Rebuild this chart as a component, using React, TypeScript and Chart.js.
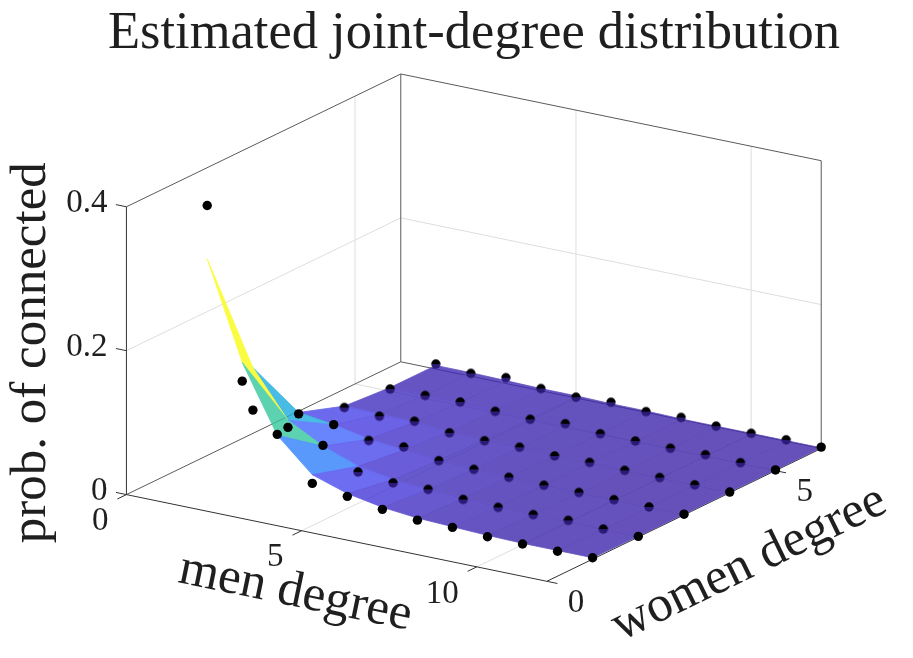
import React, { useEffect, useRef } from "react";
import { Chart, registerables } from "chart.js";

Chart.register(...registerables);

// ---------------- data ----------------
const TITLE = "Estimated joint-degree distribution";
const X_LABEL = "men degree";
const Y_LABEL = "women degree";
const Z_LABEL = "prob. of connected";

const menDegree = [1, 2, 3, 4, 5, 6, 7, 8, 9, 10, 11, 12];
const womenDegree = [1, 2, 3, 4, 5, 6];

// observed frequencies (black dots), one array per women degree, indexed by men degree
const observedW1 = [0.381, 0.147, 0.083, 0.025, 0.017, 0.009, 0.004, 0.004, 0.001, 0.001, 0.001, 0.002];
const observedW2 = [0.066, 0.052, 0.037, 0.010, 0.005, 0.006, 0.002, 0.001, 0.001, 0.003, 0.001, 0.001];
const observedW3 = [0.030, 0.025, 0.013, 0.014, 0.005, 0.003, 0.002, 0.001, 0.001, 0.001, 0.001, 0.001];
const observedW4 = [0.008, 0.006, 0.009, 0.003, 0.002, 0.003, 0.001, 0.002, 0.001, 0.001, 0.001, 0.001];
const observedW5 = [0.003, 0.004, 0.005, 0.002, 0.001, 0.005, 0.001, 0.001, 0.001, 0.002, 0.001, 0.001];
const observedW6 = [0.007, 0.004, 0.008, 0.003, 0.001, 0.004, 0.001, 0.003, 0.001, 0.001, 0.002, 0.002];

// estimated surface, one array per women degree, indexed by men degree
const estimatedW1 = [0.307, 0.173, 0.082, 0.037, 0.021, 0.012, 0.007, 0.005, 0.003, 0.002, 0.002, 0.002];
const estimatedW2 = [0.125, 0.062, 0.036, 0.018, 0.010, 0.006, 0.004, 0.003, 0.002, 0.002, 0.001, 0.001];
const estimatedW3 = [0.032, 0.025, 0.015, 0.010, 0.006, 0.004, 0.003, 0.002, 0.001, 0.001, 0.001, 0.001];
const estimatedW4 = [0.010, 0.009, 0.008, 0.005, 0.004, 0.003, 0.002, 0.002, 0.001, 0.001, 0.001, 0.001];
const estimatedW5 = [0.005, 0.005, 0.005, 0.004, 0.003, 0.003, 0.002, 0.001, 0.001, 0.001, 0.001, 0.001];
const estimatedW6 = [0.005, 0.005, 0.004, 0.003, 0.003, 0.002, 0.002, 0.001, 0.001, 0.001, 0.001, 0.001];

const menLimits = [0, 12];
const womenLimits = [0, 6];
const zLimits = [0, 0.4];

const menTicks = [0, 5, 10];
const menTickLabels = ["0", "5", "10"];
const womenTicks = [0, 5];
const womenTickLabels = ["0", "5"];
const zTicks = [0, 0.2, 0.4];
const zTickLabels = ["0", "0.2", "0.4"];

// ---------------- styling / projection ----------------
const SERIF = "'Liberation Serif', 'DejaVu Serif', serif";
const TEXT_COLOR = "#1f1f1f";
const AXIS_COLOR = "#333333";
const BOX_COLOR = "#5a5a5a";
const GRID_COLOR = "#dedede";
const FACE_ALPHA = 0.8;

// orthographic view: screen = origin + m*MV + w*WV - z*ZS
const ORIGIN = { x: 123, y: 497 };
const MV = { x: 35.4, y: 7.33 };
const WV = { x: 46.2, y: -22.45 };
const ZS = 730;

function proj(m: number, w: number, z: number) {
  return {
    x: ORIGIN.x + MV.x * m + WV.x * w,
    y: ORIGIN.y + MV.y * m + WV.y * w - ZS * z,
  };
}

// MATLAB parula colormap (64 entries)
const PARULA = [
  [0.2422, 0.1504, 0.6603], [0.2504, 0.165, 0.7076], [0.2578, 0.1818, 0.7511], [0.2647, 0.1978, 0.7952],
  [0.2706, 0.2147, 0.8364], [0.2751, 0.2342, 0.871], [0.2783, 0.2559, 0.8991], [0.2803, 0.2782, 0.9221],
  [0.2813, 0.3006, 0.9414], [0.281, 0.3228, 0.9579], [0.2795, 0.3447, 0.9717], [0.276, 0.3667, 0.9829],
  [0.2699, 0.3892, 0.9906], [0.2602, 0.4123, 0.9952], [0.244, 0.4358, 0.9988], [0.2206, 0.4603, 0.9973],
  [0.1963, 0.4847, 0.9892], [0.1834, 0.5074, 0.9798], [0.1786, 0.5289, 0.9682], [0.1764, 0.5499, 0.952],
  [0.1687, 0.5703, 0.9359], [0.154, 0.5902, 0.9218], [0.146, 0.6091, 0.9079], [0.138, 0.6276, 0.8973],
  [0.1248, 0.6459, 0.8883], [0.1113, 0.6635, 0.8763], [0.0952, 0.6798, 0.8598], [0.0689, 0.6948, 0.8394],
  [0.0297, 0.7082, 0.8163], [0.0036, 0.7203, 0.7917], [0.0067, 0.7312, 0.766], [0.0433, 0.7411, 0.7394],
  [0.0964, 0.75, 0.712], [0.1408, 0.7584, 0.6842], [0.1717, 0.767, 0.6554], [0.1938, 0.7758, 0.6251],
  [0.2161, 0.7843, 0.5923], [0.247, 0.7918, 0.5567], [0.2906, 0.7973, 0.5188], [0.3406, 0.8008, 0.4789],
  [0.3909, 0.8029, 0.4354], [0.4456, 0.8024, 0.3909], [0.5044, 0.7993, 0.348], [0.5616, 0.7942, 0.3045],
  [0.6174, 0.7876, 0.2612], [0.672, 0.7793, 0.2227], [0.7242, 0.7698, 0.191], [0.7738, 0.7598, 0.1646],
  [0.8203, 0.7498, 0.1535], [0.8634, 0.7406, 0.1596], [0.9035, 0.733, 0.1774], [0.9393, 0.7288, 0.21],
  [0.9728, 0.7298, 0.2394], [0.9956, 0.7434, 0.2371], [0.997, 0.7659, 0.2199], [0.9952, 0.7893, 0.2028],
  [0.9892, 0.8136, 0.1885], [0.9786, 0.8386, 0.1766], [0.9676, 0.8639, 0.1643], [0.961, 0.889, 0.1537],
  [0.9597, 0.9135, 0.1423], [0.9628, 0.9373, 0.1265], [0.9691, 0.9606, 0.1064], [0.9769, 0.9839, 0.0805],
];

function parulaRGB(t: number) {
  const tt = Math.max(0, Math.min(1, t)) * (PARULA.length - 1);
  const i = Math.min(PARULA.length - 2, Math.floor(tt));
  const f = tt - i;
  return PARULA[i].map((v, k) => 255 * (v + (PARULA[i + 1][k] - v) * f));
}

function makeHalfDot(r: number) {
  const c = document.createElement("canvas");
  const s = Math.ceil(r * 2) + 2;
  c.width = s;
  c.height = s;
  const g = c.getContext("2d")!;
  const cx = s / 2;
  g.beginPath();
  g.arc(cx, cx, r, Math.PI, 2 * Math.PI);
  g.closePath();
  g.fillStyle = "#000000";
  g.fill();
  g.beginPath();
  g.arc(cx, cx, r, 0, Math.PI);
  g.closePath();
  g.fillStyle = "rgb(44,27,118)";
  g.fill();
  return c;
}

function buildDatasets(halfDot: HTMLCanvasElement) {
  const observed = [observedW1, observedW2, observedW3, observedW4, observedW5, observedW6];
  const estimated = [estimatedW1, estimatedW2, estimatedW3, estimatedW4, estimatedW5, estimatedW6];
  const [m0, m1] = menLimits;
  const [w0, w1] = womenLimits;
  const [z0, z1] = zLimits;
  const seq: any[] = [];

  const seg = (a: number[], b: number[], color: string, width: number) => ({
    type: "line",
    data: [proj(a[0], a[1], a[2]), proj(b[0], b[1], b[2])],
    borderColor: color,
    borderWidth: width,
    pointRadius: 0,
    fill: false,
    tension: 0,
  });

  // grid lines on back walls and floor
  zTicks.filter((t) => t > z0 && t < z1).forEach((t) => {
    seq.push(seg([m0, w0, t], [m0, w1, t], GRID_COLOR, 1));
    seq.push(seg([m0, w1, t], [m1, w1, t], GRID_COLOR, 1));
  });
  menTicks.filter((t) => t > m0 && t < m1).forEach((t) => {
    seq.push(seg([t, w1, z0], [t, w1, z1], GRID_COLOR, 1));
    seq.push(seg([t, w0, z0], [t, w1, z0], GRID_COLOR, 1));
  });
  womenTicks.filter((t) => t > w0 && t < w1).forEach((t) => {
    seq.push(seg([m0, t, z0], [m0, t, z1], GRID_COLOR, 1));
    seq.push(seg([m0, t, z0], [m1, t, z0], GRID_COLOR, 1));
  });

  // back box edges
  seq.push(seg([m0, w0, z1], [m0, w1, z1], BOX_COLOR, 1));
  seq.push(seg([m0, w1, z1], [m1, w1, z1], BOX_COLOR, 1));
  seq.push(seg([m0, w1, z0], [m0, w1, z1], BOX_COLOR, 1));
  seq.push(seg([m1, w1, z0], [m1, w1, z1], BOX_COLOR, 1));
  seq.push(seg([m0, w0, z0], [m0, w1, z0], BOX_COLOR, 1));
  seq.push(seg([m0, w1, z0], [m1, w1, z0], BOX_COLOR, 1));

  // axes
  seq.push(seg([m0, w0, z0], [m0, w0, z1], AXIS_COLOR, 1));
  seq.push(seg([m0, w0, z0], [m1, w0, z0], AXIS_COLOR, 1));
  seq.push(seg([m1, w0, z0], [m1, w1, z0], AXIS_COLOR, 1));

  // tick marks
  zTicks.forEach((t) => seq.push(seg([m0, w0, t], [m0 - 0.3, w0, t], AXIS_COLOR, 1)));
  menTicks.forEach((t) => seq.push(seg([t, w0, z0], [t, w0 - 0.2, z0], AXIS_COLOR, 1)));
  womenTicks.forEach((t) => seq.push(seg([m1, t, z0], [m1 + 0.3, t, z0], AXIS_COLOR, 1)));

  // surface faces (flat colour of first vertex), painter's order
  let sMin = Infinity;
  let sMax = -Infinity;
  estimated.forEach((row) => row.forEach((v) => { sMin = Math.min(sMin, v); sMax = Math.max(sMax, v); }));
  const faces: any[] = [];
  for (let j = 0; j < womenDegree.length - 1; j++) {
    for (let i = 0; i < menDegree.length - 1; i++) {
      const ma = menDegree[i], mb = menDegree[i + 1];
      const wa = womenDegree[j], wb = womenDegree[j + 1];
      const pts = [
        proj(ma, wa, estimated[j][i]),
        proj(mb, wa, estimated[j][i + 1]),
        proj(mb, wb, estimated[j + 1][i + 1]),
        proj(ma, wb, estimated[j + 1][i]),
        proj(ma, wa, estimated[j][i]),
      ];
      const mc = (ma + mb) / 2;
      const wc = (wa + wb) / 2;
      const zc = (estimated[j][i] + estimated[j][i + 1] + estimated[j + 1][i] + estimated[j + 1][i + 1]) / 4;
      const depth = WV.x * mc - MV.x * wc + 1.55 * zc;
      const rgb = parulaRGB((estimated[j][i] - sMin) / (sMax - sMin));
      const fillColor = `rgba(${rgb.map(Math.round).join(",")},${FACE_ALPHA})`;
      const flat = rgb.map((v) => Math.round(FACE_ALPHA * v + (1 - FACE_ALPHA) * 255));
      faces.push({
        depth,
        ds: {
          type: "line",
          data: pts,
          borderWidth: 0.8,
          backgroundColor: fillColor,
          borderColor: `rgb(${flat.join(",")})`,
          borderJoinStyle: "round",
          pointRadius: 0,
          fill: "shape",
          tension: 0,
        },
      });
    }
  }
  faces.sort((a, b) => a.depth - b.depth).forEach((f) => seq.push(f.ds));

  // observed dots
  const dotPts: { x: number; y: number }[] = [];
  const covered: boolean[] = [];
  womenDegree.forEach((w, j) => {
    menDegree.forEach((m, i) => {
      dotPts.push(proj(m, w, observed[j][i]));
      covered.push(
        j >= 1 && i < menDegree.length - 1 && estimated[j][i] < 0.02 && observed[j][i] - estimated[j][i] < 0.006
      );
    });
  });
  seq.push({
    type: "line",
    data: dotPts,
    showLine: false,
    pointRadius: 4.7,
    pointHoverRadius: 4.7,
    pointBorderWidth: 0,
    pointBackgroundColor: "#000000",
    pointBorderColor: "#000000",
    pointStyle: (ctx: any) => (covered[ctx.dataIndex] ? halfDot : "circle"),
    fill: false,
  });

  const n = seq.length;
  return seq.map((d, k) => ({ ...d, order: n - k }));
}

const textPlugin = {
  id: "text3d",
  afterDatasetsDraw(chart: any) {
    const { ctx } = chart;
    const xs = chart.scales.x;
    const ys = chart.scales.y;
    const px = (p: { x: number; y: number }) => ({ x: xs.getPixelForValue(p.x), y: ys.getPixelForValue(p.y) });
    const [m0, m1] = menLimits;
    const [w0, w1] = womenLimits;
    const [z0, z1] = zLimits;
    ctx.save();
    ctx.fillStyle = TEXT_COLOR;

    // title
    ctx.font = `52.5px ${SERIF}`;
    ctx.textAlign = "center";
    ctx.textBaseline = "alphabetic";
    ctx.fillText(TITLE, 474, 48);

    // tick labels
    ctx.font = `33px ${SERIF}`;
    ctx.textBaseline = "middle";
    ctx.textAlign = "right";
    zTicks.forEach((t, k) => {
      const p = px(proj(m0, w0, t));
      ctx.fillText(zTickLabels[k], p.x - 19, p.y - 3);
    });
    menTicks.forEach((t, k) => {
      const p = px(proj(t, w0, z0));
      ctx.fillText(menTickLabels[k], p.x - 18, p.y + 27);
    });
    ctx.textAlign = "left";
    womenTicks.forEach((t, k) => {
      const p = px(proj(m1, t, z0));
      ctx.fillText(womenTickLabels[k], p.x + 21, p.y + 22);
    });

    // axis labels
    ctx.font = `51px ${SERIF}`;
    ctx.textAlign = "center";
    ctx.textBaseline = "alphabetic";
    const drawRot = (text: string, x: number, y: number, ang: number) => {
      ctx.save();
      ctx.translate(x, y);
      ctx.rotate(ang);
      ctx.fillText(text, 0, 0);
      ctx.restore();
    };
    const mMid = px(proj((m0 + m1) / 2, w0, z0));
    drawRot(X_LABEL, mMid.x - 44, mMid.y + 68, Math.atan2(MV.y, MV.x));
    const wMid = px(proj(m1, (w0 + w1) / 2, z0));
    drawRot(Y_LABEL, wMid.x + 71, wMid.y + 61, Math.atan2(WV.y, WV.x));
    const zMid = px(proj(m0, w0, (z0 + z1) / 2));
    drawRot(Z_LABEL, zMid.x - 81, zMid.y + 2, -Math.PI / 2);

    ctx.restore();
  },
};

export default function App() {
  const ref = useRef<HTMLCanvasElement>(null);
  useEffect(() => {
    const canvas = ref.current;
    if (!canvas) return;
    const halfDot = makeHalfDot(4.7);
    const chart = new Chart(canvas, {
      type: "line",
      data: { datasets: buildDatasets(halfDot) as any },
      options: {
        animation: false,
        responsive: false,
        maintainAspectRatio: false,
        events: [],
        layout: { padding: 0 },
        plugins: {
          legend: { display: false },
          title: { display: false },
          tooltip: { enabled: false },
        },
        scales: {
          x: { type: "linear", min: 0, max: 913, display: false },
          y: { type: "linear", min: 0, max: 658, reverse: true, display: false },
        },
      },
      plugins: [textPlugin],
    });
    return () => chart.destroy();
  }, []);
  return (
    <div style={{ position: "absolute", left: 0, top: 0, width: 913, height: 658, background: "#ffffff" }}>
      <canvas ref={ref} width={913} height={658} style={{ display: "block", width: 913, height: 658 }} />
    </div>
  );
}
